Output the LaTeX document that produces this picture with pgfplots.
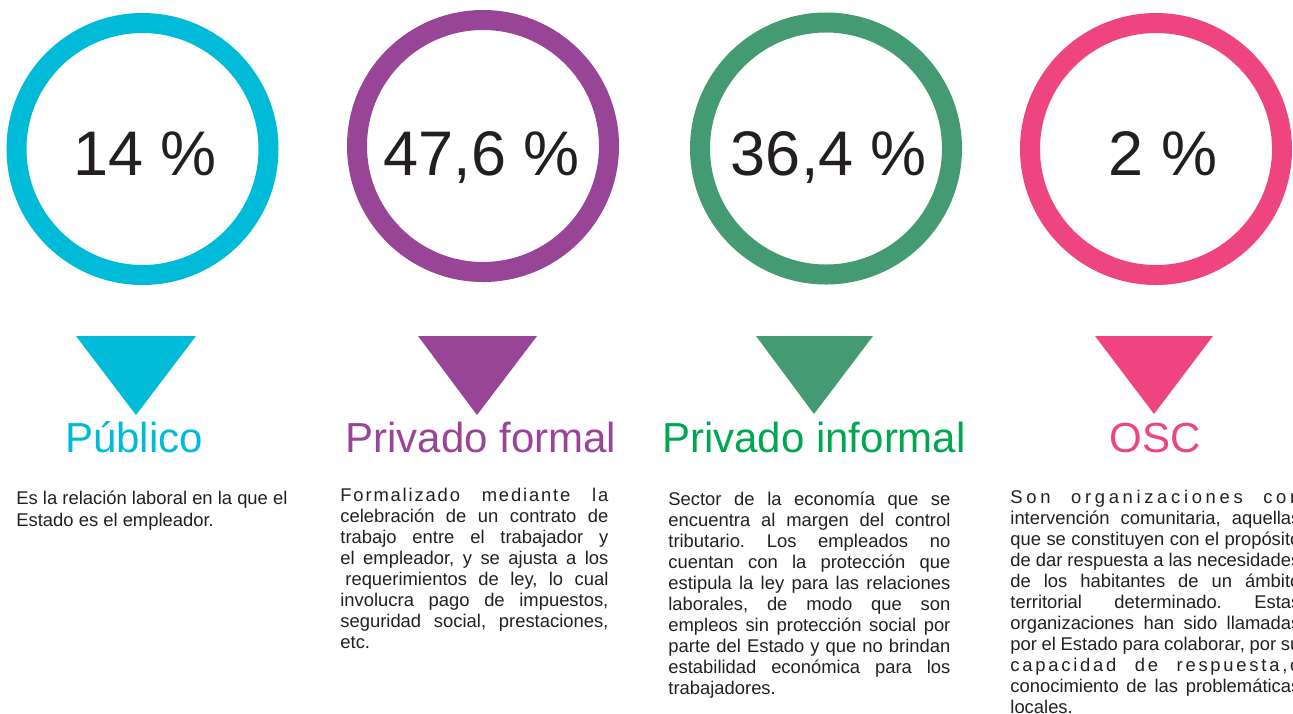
\documentclass[border=0pt]{standalone}
\usepackage{fontspec}
\setmainfont{Liberation Sans}
\usepackage{pgfplots}
\pgfplotsset{compat=1.18}

\definecolor{pub}{HTML}{00BBD7}
\definecolor{pri}{HTML}{984497}
\definecolor{inf}{HTML}{449B73}
\definecolor{infTxt}{HTML}{00A650}
\definecolor{osc}{HTML}{EE4581}
\definecolor{ink}{HTML}{231F20}

% one justified line of a text block
\newcommand{\jl}[2]{\makebox[#1][s]{#2}}
\newcommand{\bodyfont}{\fontsize{9.2pt}{10.5pt}\selectfont\frenchspacing}
\newcommand{\pct}{\fontsize{31.5pt}{34pt}\selectfont}
\newcommand{\lbl}{\fontsize{21pt}{24pt}\selectfont}

\begin{document}
\begin{tikzpicture}
\useasboundingbox (0,0) rectangle (646.5pt,356.5pt);
\begin{axis}[at={(0,0)}, anchor=south west, scale only axis,
  width=646.5pt, height=356.5pt,
  xmin=0, xmax=1293, ymin=0, ymax=713, y dir=reverse,
  hide axis, clip=false]

% rings (mark size = radius to the middle of the stroke)
\addplot[only marks, mark=o, mark size=63pt, color=pub, mark options={line width=10pt}] coordinates {(142.5,149)};
\addplot[only marks, mark=o, mark size=63pt, color=pri, mark options={line width=10pt}] coordinates {(483,146)};
\addplot[only marks, mark=o, mark size=63pt, color=inf, mark options={line width=10pt}] coordinates {(826,148.5)};
\addplot[only marks, mark=o, mark size=63pt, color=osc, mark options={line width=10pt}] coordinates {(1156,149)};

% pointers
\addplot[fill=pub, draw=none] coordinates {(76,336) (196,336) (136,415)} -- cycle;
\addplot[fill=pri, draw=none] coordinates {(418,336) (537,336) (477,415)} -- cycle;
\addplot[fill=inf, draw=none] coordinates {(756,336) (873,336) (814,414)} -- cycle;
\addplot[fill=osc, draw=none] coordinates {(1095,336) (1213,336) (1154,414)} -- cycle;

% shares
\node[anchor=base, text=ink, inner sep=0] at (axis cs:145,175) {\pct 14 \%};
\node[anchor=base, text=ink, inner sep=0] at (axis cs:482,175) {\pct 47,6 \%};
\node[anchor=base, text=ink, inner sep=0] at (axis cs:829,175) {\pct 36,4 \%};
\node[anchor=base, text=ink, inner sep=0] at (axis cs:1163,175) {\pct 2 \%};

% sector names
\node[anchor=base, text=pub, inner sep=0] at (axis cs:134,452) {\lbl Público};
\node[anchor=base, text=pri, inner sep=0] at (axis cs:481,452) {\lbl Privado formal};
\node[anchor=base, text=infTxt, inner sep=0] at (axis cs:814,452) {\lbl Privado informal};
\node[anchor=base, text=osc, inner sep=0] at (axis cs:1155,452) {\lbl OSC};

% descriptions
\node[anchor=north west, align=left, inner sep=0, text=ink,
  font={\fontsize{9.2pt}{11pt}\selectfont}] at (axis cs:16,488.6)
  {\strut Es la relación laboral en la que el\\
   Estado es el empleador.};

\node[anchor=north west, align=left, inner sep=0, text=ink, font=\bodyfont] at (axis cs:340,486.3)
  {\strut\jl{134pt}{\addfontfeature{LetterSpace=10}Formalizado mediante la}\\
   \jl{134pt}{celebración de un contrato de}\\
   \jl{134pt}{trabajo entre el trabajador y}\\
   \jl{134pt}{el empleador, y se ajusta a los}\\
   \jl{134pt}{\hspace{2.5pt}requerimientos de ley, lo cual}\\
   \jl{134pt}{involucra pago de impuestos,}\\
   \jl{134pt}{seguridad social, prestaciones,}\\
   etc.};

\node[anchor=north west, align=left, inner sep=0, text=ink, font=\bodyfont] at (axis cs:668,490.3)
  {\strut\jl{141pt}{Sector de la economía que se}\\
   \jl{141pt}{encuentra al margen del control}\\
   \jl{141pt}{tributario. Los empleados no}\\
   \jl{141pt}{cuentan con la protección que}\\
   \jl{141pt}{estipula la ley para las relaciones}\\
   \jl{141pt}{laborales, de modo que son}\\
   \jl{141pt}{empleos sin protección social por}\\
   \jl{141pt}{parte del Estado y que no brindan}\\
   \jl{141pt}{estabilidad económica para los}\\
   trabajadores.};

\node[anchor=north west, align=left, inner sep=0, text=ink, font=\bodyfont] at (axis cs:1010,488.3)
  {\strut\jl{145pt}{\addfontfeature{LetterSpace=20}Son organizaciones con}\\
   \jl{145pt}{intervención comunitaria, aquellas}\\
   \jl{145pt}{que se constituyen con el propósito}\\
   \jl{145pt}{de dar respuesta a las necesidades}\\
   \jl{145pt}{de los habitantes de un ámbito}\\
   \jl{145pt}{territorial determinado. Estas}\\
   \jl{145pt}{organizaciones han sido llamadas}\\
   \jl{145pt}{por el Estado para colaborar, por su}\\
   \jl{145pt}{\addfontfeature{LetterSpace=15}capacidad de respuesta,o}\\
   \jl{145pt}{conocimiento de las problemáticas}\\
   locales.};

\end{axis}
\end{tikzpicture}
\end{document}
